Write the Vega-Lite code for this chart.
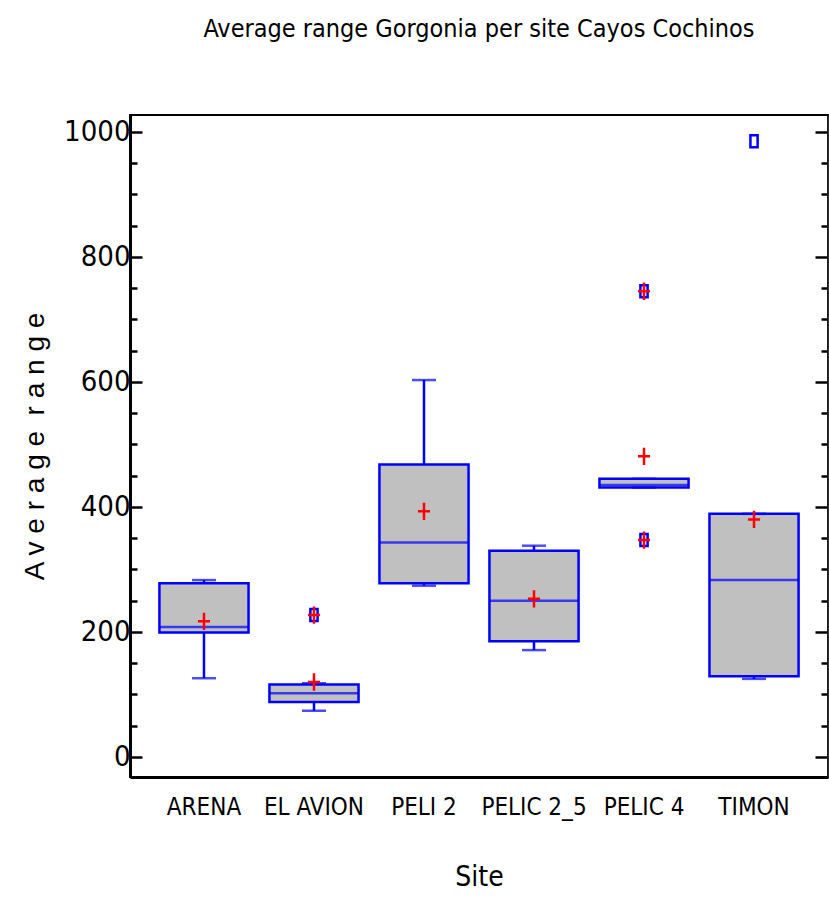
{
  "$schema": "https://vega.github.io/schema/vega-lite/v6.json",
  "width": 698,
  "height": 662,
  "autosize": {"type": "none"},
  "padding": {"left": 130, "top": 115, "right": 1, "bottom": 121},
  "background": "white",
  "title": {
    "text": "Average range Gorgonia per site Cayos Cochinos",
    "font": "DejaVu Sans Condensed, Liberation Sans",
    "fontSize": 25,
    "fontWeight": "normal",
    "color": "black",
    "anchor": "middle",
    "offset": 73
  },
  "datasets": {
    "stats": [
      {"site": "ARENA", "lo": 126, "q1": 199, "median": 208, "q3": 278, "hi": 283, "mean": 217},
      {"site": "EL AVION", "lo": 74, "q1": 88, "median": 102, "q3": 116, "hi": 118, "mean": 120},
      {"site": "PELI 2", "lo": 274, "q1": 278, "median": 343, "q3": 468, "hi": 603, "mean": 393},
      {"site": "PELIC 2_5", "lo": 171, "q1": 185, "median": 250, "q3": 330, "hi": 338, "mean": 253},
      {"site": "PELIC 4", "lo": 431, "q1": 431, "median": 435, "q3": 445, "hi": 445, "mean": 481},
      {"site": "TIMON", "lo": 125, "q1": 129, "median": 283, "q3": 389, "hi": 389, "mean": 380}
    ],
    "outliers": [
      {"site": "EL AVION", "value": 227, "far": true},
      {"site": "PELIC 4", "value": 745, "far": true},
      {"site": "PELIC 4", "value": 347, "far": true},
      {"site": "TIMON", "value": 985, "far": false}
    ]
  },
  "config": {
    "view": {"stroke": "black", "strokeWidth": 2},
    "axis": {"grid": false}
  },
  "layer": [
    {
      "data": {"name": "stats"},
      "mark": {"type": "bar", "fill": "#C0C0C0", "stroke": "#0000FF", "strokeWidth": 2.5},
      "encoding": {
        "x": {
          "field": "site", "type": "nominal", "sort": null,
          "scale": {"paddingInner": 0.19, "paddingOuter": 0.2675},
          "axis": {
            "orient": "bottom", "labelAngle": 0, "ticks": false,
            "domainColor": "black", "domainWidth": 3,
            "labelFont": "DejaVu Sans Condensed, Liberation Sans", "labelFontSize": 24, "labelColor": "black",
            "labelPadding": 18,
            "title": "Site", "titleFont": "DejaVu Sans Condensed, Liberation Sans", "titleFontSize": 28,
            "titleFontWeight": "normal", "titleColor": "black", "titlePadding": 44
          }
        },
        "y": {
          "field": "q1", "type": "quantitative",
          "scale": {"domain": [-32, 1027], "nice": false, "zero": false},
          "axis": {
            "orient": "left",
            "values": [0, 50, 100, 150, 200, 250, 300, 350, 400, 450, 500, 550, 600, 650, 700, 750, 800, 850, 900, 950, 1000],
            "format": "d",
            "labelExpr": "datum.value % 200 === 0 ? datum.label : ''",
            "tickSize": {"condition": {"test": "datum.value % 200 === 0", "value": -12}, "value": -7},
            "tickWidth": 2.5, "tickColor": "black",
            "domainColor": "black", "domainWidth": 3,
            "labelFont": "DejaVu Sans Condensed, Liberation Sans", "labelFontSize": 29, "labelColor": "black",
            "labelPadding": 12,
            "title": "A v e r a g e \u00a0r a n g e", "titleFont": "Liberation Sans", "titleFontSize": 28,
            "titleFontWeight": "normal", "titleColor": "black", "titlePadding": 14
          }
        },
        "y2": {"field": "q3"}
      }
    },
    {
      "data": {"name": "stats"},
      "mark": {"type": "rule", "color": "#0000FF", "strokeWidth": 2.5},
      "encoding": {
        "x": {"field": "site", "type": "nominal", "sort": null},
        "y": {
          "field": "lo", "type": "quantitative",
          "axis": {
            "orient": "right",
            "values": [0, 50, 100, 150, 200, 250, 300, 350, 400, 450, 500, 550, 600, 650, 700, 750, 800, 850, 900, 950, 1000],
            "labels": false, "title": null,
            "tickSize": {"condition": {"test": "datum.value % 200 === 0", "value": -13}, "value": -7},
            "tickWidth": 2.5, "tickColor": "black",
            "domainColor": "#333333", "domainWidth": 2
          }
        },
        "y2": {"field": "q1"}
      }
    },
    {
      "data": {"name": "stats"},
      "mark": {"type": "rule", "color": "#0000FF", "strokeWidth": 2.5},
      "encoding": {
        "x": {"field": "site", "type": "nominal", "sort": null},
        "y": {"field": "q3", "type": "quantitative", "axis": null},
        "y2": {"field": "hi"}
      }
    },
    {
      "data": {"name": "stats"},
      "mark": {"type": "tick", "color": "#0000FF", "size": 24, "thickness": 2.5},
      "encoding": {
        "x": {"field": "site", "type": "nominal", "sort": null},
        "y": {"field": "lo", "type": "quantitative", "axis": null}
      }
    },
    {
      "data": {"name": "stats"},
      "mark": {"type": "tick", "color": "#0000FF", "size": 24, "thickness": 2.5},
      "encoding": {
        "x": {"field": "site", "type": "nominal", "sort": null},
        "y": {"field": "hi", "type": "quantitative", "axis": null}
      }
    },
    {
      "data": {"name": "stats"},
      "mark": {"type": "tick", "color": "#0000FF", "size": 89, "thickness": 2.5},
      "encoding": {
        "x": {"field": "site", "type": "nominal", "sort": null},
        "y": {"field": "median", "type": "quantitative", "axis": null}
      }
    },
    {
      "data": {"name": "outliers"},
      "mark": {"type": "point", "shape": "M-0.6,-1H0.6V1H-0.6Z", "size": 144, "filled": false, "stroke": "#0000FF", "strokeWidth": 2.5, "opacity": 1},
      "encoding": {
        "x": {"field": "site", "type": "nominal", "sort": null},
        "y": {"field": "value", "type": "quantitative", "axis": null}
      }
    },
    {
      "data": {"name": "stats"},
      "mark": {"type": "point", "shape": "M-0.7,0H0.7M0,-1V1", "size": 300, "filled": false, "stroke": "#FF0000", "strokeWidth": 2.5, "opacity": 1},
      "encoding": {
        "x": {"field": "site", "type": "nominal", "sort": null},
        "y": {"field": "mean", "type": "quantitative", "axis": null}
      }
    },
    {
      "data": {"name": "outliers"},
      "transform": [{"filter": "datum.far"}],
      "mark": {"type": "point", "shape": "M-0.7,0H0.7M0,-1V1", "size": 300, "filled": false, "stroke": "#FF0000", "strokeWidth": 2.5, "opacity": 1},
      "encoding": {
        "x": {"field": "site", "type": "nominal", "sort": null},
        "y": {"field": "value", "type": "quantitative", "axis": null}
      }
    }
  ],
  "resolve": {"axis": {"y": "independent"}}
}
